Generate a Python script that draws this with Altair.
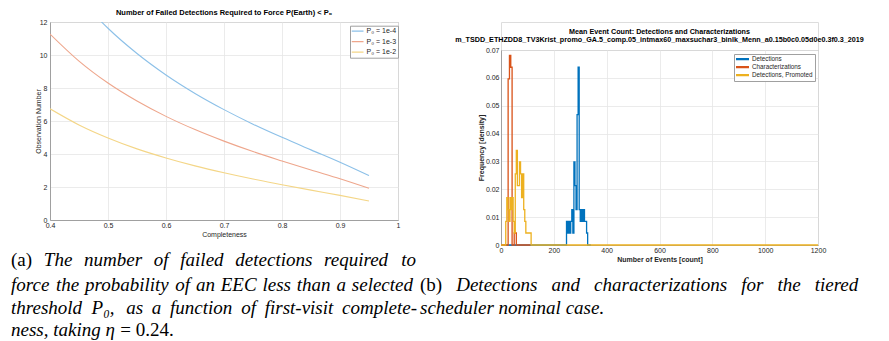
import altair as alt
import pandas as pd

# ---------------- panel (a): failed detections vs completeness ----------------
completeness = [0.40, 0.45, 0.50, 0.55, 0.60, 0.65, 0.70, 0.75, 0.80, 0.85, 0.90, 0.95]
obs_p0_1e4 = [15.77, 13.48, 11.62, 10.09, 8.79, 7.67, 6.69, 5.81, 5.01, 4.25, 3.50, 2.69]
obs_p0_1e3 = [11.27, 9.63, 8.30, 7.21, 6.28, 5.48, 4.78, 4.15, 3.58, 3.03, 2.50, 1.92]
obs_p0_1e2 = [6.74, 5.76, 4.97, 4.31, 3.76, 3.28, 2.86, 2.48, 2.14, 1.81, 1.49, 1.15]
series_a = ["P₀ = 1e-4", "P₀ = 1e-3", "P₀ = 1e-2"]
colors_a = ["#8cc0e8", "#eea68c", "#f4d687"]
ticks_a_x = [0.4, 0.5, 0.6, 0.7, 0.8, 0.9, 1.0]
ticks_a_y = [0, 2, 4, 6, 8, 10, 12]
title_a = "Number of Failed Detections Required to Force P(Earth) < P₀"

# ---------------- panel (b): event count histograms (stairs) ----------------
det_edges = [0, 248, 252, 256, 260, 264, 268, 272, 276, 280, 284, 288, 292, 296,
             300, 304, 308, 312, 316, 320, 324, 328, 332, 340]
det_dens = [0, 0.0085, 0.0043, 0.0085, 0.0043, 0.0085, 0.0127, 0.0043, 0.0298, 0.0213,
            0.0127, 0.0468, 0.0638, 0.0127, 0.0085, 0.0127, 0.0085, 0.0127, 0.0085,
            0.0085, 0.0043, 0, 0, 0]
char_edges = [0, 27, 32, 37, 42, 50, 54, 58, 112]
char_dens = [0, 0.0596, 0.0681, 0.0638, 0, 0.0043, 0.0043, 0, 0]
promo_edges = [0, 18, 22, 26, 30, 34, 38, 42, 46, 50, 54, 58, 62, 66, 70, 74, 78,
               82, 86, 90, 94, 98, 102, 106, 110, 114, 1200]
promo_dens = [0, 0.0085, 0.0170, 0.0127, 0.0085, 0.0170, 0.0127, 0.0170, 0.0085, 0.0043,
              0.0255, 0.0340, 0.0213, 0.0213, 0.0298, 0.0255, 0.0170, 0.0255, 0.0127,
              0.0085, 0.0043, 0.0043, 0.0043, 0.0043, 0.0043, 0, 0]
series_b = ["Detections", "Characterizations", "Detections, Promoted"]
colors_b = ["#0072BD", "#D95319", "#EDB120"]
ticks_b_x = [0, 200, 400, 600, 800, 1000, 1200]
ticks_b_y = [0, 0.01, 0.02, 0.03, 0.04, 0.05, 0.06, 0.07]
title_b = ["Mean Event Count: Detections and Characterizations",
           "m_TSDD_ETHZDD8_TV3Krist_promo_GA.5_comp.05_intmax60_maxsuchar3_binlk_Menn_a0.15b0c0.05d0e0.3f0.3_2019"]

# ---------------- captions ----------------
cap_a_lines = [
    [("(a)", "R"), ("The", "I"), ("number", "I"), ("of", "I"), ("failed", "I"),
     ("detections", "I"), ("required", "I"), ("to", "I")],
    [(w, "I") for w in "force the probability of an EEC less than a selected".split()],
    [(w, "I") for w in "threshold P₀, as a function of first-visit complete-".split()],
    [("ness, taking η", "I"), ("= 0.24.", "R")],
]
cap_b_lines = [
    [("(b)", "R")] + [(w, "I") for w in "Detections and characterizations for the tiered".split()],
    [("scheduler nominal case.", "I")],
]

# ---------------- layout constants ----------------
FONT = "Liberation Sans"
SERIF = "Liberation Serif"
AXC = "#262626"
GRID = "#e6e6e6"
BOX = "#a0a0a0"
W_A, H_A = 348, 198          # plot area of (a)
W_B, H_B = 317, 195          # plot area of (b)
OX, OY = 49, 19              # page position of (a) plot origin
CAP_SIZE = 19.0

ITAL = dict(a=500, b=500, c=444, d=500, e=444, f=278, g=500, h=500, i=278, j=278, k=444,
            l=278, m=722, n=500, o=500, p=500, q=500, r=389, s=389, t=278, u=500, v=444,
            w=667, x=444, y=444, z=389, C=667, D=722, E=611, P=611, T=556)
ITAL.update({" ": 250, ",": 250, ".": 250, "-": 333, "=": 675, "(": 333, ")": 333,
             "₀": 500, "η": 500})
ROMAN = {"(": 333, ")": 333, "a": 444, "b": 500, "=": 564, ".": 250, " ": 250}


def tw(text, style):
    table = ROMAN if style == "R" else ITAL
    return sum(table.get(ch, 500) for ch in text) / 1000.0 * CAP_SIZE


def place(tokens, x0, x1=None):
    widths = [tw(t, s) for t, s in tokens]
    if x1 is None or len(tokens) < 2:
        gap = 0.28 * CAP_SIZE
    else:
        gap = (x1 - x0 - sum(widths)) / (len(tokens) - 1)
    out, x = [], x0
    for (t, s), w in zip(tokens, widths):
        out.append((t, s, x))
        x += w + gap
    return out


caption_tokens = []
for (line, y, x1) in zip(cap_a_lines, [257, 282, 305, 327], [415, 412, 416, None]):
    caption_tokens += [(t, s, x, y) for t, s, x in place(line, 10, x1)]
for (line, y, x1) in zip(cap_b_lines, [282, 305], [858, None]):
    caption_tokens += [(t, s, x, y) for t, s, x in place(line, 419, x1)]


def axis(values, title, fmt, bold=False, **kw):
    return alt.Axis(values=values, format=fmt, title=title, labelFont=FONT, labelFontSize=7,
                    labelColor=AXC, titleFont=FONT, titleFontSize=7,
                    titleFontWeight="bold" if bold else "normal", titleColor=AXC,
                    grid=True, gridColor=GRID, gridWidth=0.8, domainColor=BOX, domainWidth=1,
                    ticks=False, tickSize=0, labelFlush=False, **kw)


# ---------------- chart (a) ----------------
rows_a = []
for name, vals in zip(series_a, [obs_p0_1e4, obs_p0_1e3, obs_p0_1e2]):
    rows_a += [{"c": c, "n": v, "pa": name} for c, v in zip(completeness, vals)]
df_a = pd.DataFrame(rows_a)

lines_a = alt.Chart(df_a).mark_line(clip=True, strokeWidth=1.1, interpolate="monotone").encode(
    x=alt.X("c:Q", scale=alt.Scale(domain=[0.4, 1.0], nice=False),
            axis=axis(ticks_a_x, "Completeness", ".1~f", labelPadding=1.5, titleY=14,
                      titleBaseline="middle")),
    y=alt.Y("n:Q", scale=alt.Scale(domain=[0, 12], nice=False),
            axis=axis(ticks_a_y, "Observation Number", "d", labelPadding=3, titleX=-11.5,
                      titleBaseline="middle")),
    color=alt.Color("pa:N", sort=series_a,
                    scale=alt.Scale(domain=series_a, range=colors_a),
                    legend=alt.Legend(title=None, orient="none", legendX=300, legendY=3.7,
                                      symbolType="M-1.2,0L1.2,0", symbolSize=100,
                                      symbolStrokeWidth=1.2, clipHeight=8,
                                      labelFont=FONT, labelFontSize=7, labelColor=AXC,
                                      fillColor="white", strokeColor=BOX, padding=1.5,
                                      rowPadding=2.5, labelOffset=3)),
)

caption_layers = []
for t, s, x, y in caption_tokens:
    caption_layers.append(
        alt.Chart(pd.DataFrame({"t": [t]})).mark_text(
            align="left", baseline="middle", font=SERIF, fontSize=CAP_SIZE,
            fontStyle="normal" if s == "R" else "italic", color="black"
        ).encode(text="t:N", x=alt.value(x - OX), y=alt.value(y - OY))
    )

chart_a = alt.layer(lines_a, *caption_layers).properties(
    width=W_A, height=H_A,
    view=alt.ViewBackground(stroke=BOX, strokeWidth=1),
    title=alt.TitleParams(title_a, font=FONT, fontSize=7.5, fontWeight="bold", color="black",
                          offset=1.5, anchor="middle"),
)

# ---------------- chart (b) ----------------
layers_b = []
for name, edges, dens in zip(series_b, [det_edges, char_edges, promo_edges],
                             [det_dens, char_dens, promo_dens]):
    d = pd.DataFrame({"x": edges, "y": dens, "pb": name})
    layers_b.append(
        alt.Chart(d).mark_line(interpolate="step-after", strokeWidth=1.3).encode(
            x=alt.X("x:Q", scale=alt.Scale(domain=[0, 1200], nice=False),
                    axis=axis(ticks_b_x, "Number of Events [count]", "d", bold=True,
                              labelPadding=1.5, titleY=14.4, titleBaseline="middle")),
            y=alt.Y("y:Q", scale=alt.Scale(domain=[0, 0.07], nice=False),
                    axis=axis(ticks_b_y, "Frequency [density]", ".2~f", bold=True,
                              labelPadding=2, titleX=-20, titleBaseline="middle")),
            color=alt.Color("pb:N", sort=series_b,
                            scale=alt.Scale(domain=series_b, range=colors_b),
                            legend=alt.Legend(title=None, orient="none", legendX=233, legendY=4,
                                              symbolType="M-1.3,0L1.3,0", symbolSize=100,
                                              symbolStrokeWidth=2.2, clipHeight=6.3,
                                              labelFont=FONT, labelFontSize=6.3,
                                              labelColor=AXC, fillColor="white",
                                              strokeColor=BOX, padding=2,
                                              rowPadding=1, labelOffset=3)),
        )
    )

chart_b = alt.layer(*layers_b).properties(
    width=W_B, height=H_B,
    view=alt.ViewBackground(stroke=BOX, strokeWidth=1),
    title=alt.TitleParams(title_b, font=FONT, fontSize=7.2, fontWeight="bold", color="black",
                          offset=3, anchor="middle", lineHeight=8),
)

spacer = alt.Chart(pd.DataFrame({"a": [0]})).mark_point(opacity=0).encode(
    x=alt.value(0), y=alt.value(0)
).properties(width=W_B, height=28)

right_col = alt.vconcat(spacer, chart_b, spacing=0, bounds="flush").resolve_scale(
    color="independent")

chart = alt.hconcat(chart_a, right_col, spacing=500 - OX - W_A, bounds="flush").resolve_scale(
    color="independent"
).properties(
    padding={"left": 2, "top": 0, "right": 0, "bottom": 0}
).configure_view(stroke="transparent").configure(background="white")

chart.save("out.html", embed_options={"renderer": "svg", "actions": False})
